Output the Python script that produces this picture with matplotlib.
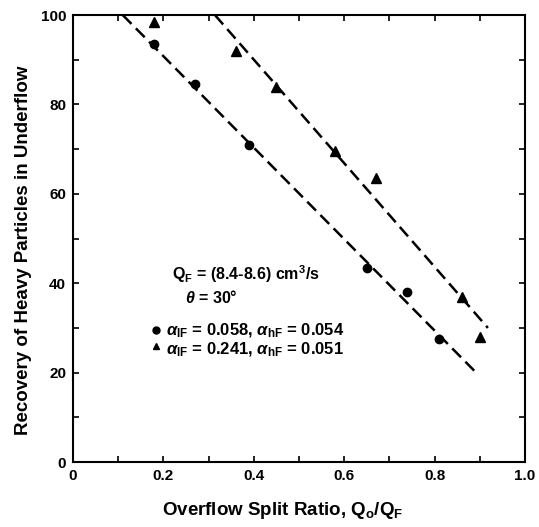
import matplotlib
matplotlib.use("Agg")
import matplotlib.pyplot as plt
from matplotlib.ticker import MultipleLocator

plt.rcParams['font.family'] = ['Liberation Sans', 'DejaVu Sans']
plt.rcParams['mathtext.fontset'] = 'custom'
plt.rcParams['mathtext.rm'] = 'Liberation Sans:bold'
plt.rcParams['mathtext.it'] = 'Liberation Sans:italic:bold'
plt.rcParams['mathtext.bf'] = 'Liberation Sans:bold'

# data
circle_x = [0.18, 0.27, 0.39, 0.65, 0.74, 0.81]
circle_y = [93.5, 84.5, 71.0, 43.5, 38.0, 27.5]
tri_x = [0.18, 0.36, 0.45, 0.58, 0.67, 0.86, 0.90]
tri_y = [98.5, 92.0, 84.0, 69.5, 63.5, 37.0, 28.0]

# fitted dashed lines (end points)
circle_fit_x = [0.11, 0.89]
circle_fit_y = [100.0, 20.2]
tri_fit_x = [0.314, 0.918]
tri_fit_y = [100.0, 30.0]

x_ticks = [0, 0.2, 0.4, 0.6, 0.8, 1.0]
x_tick_labels = ["0", "0.2", "0.4", "0.6", "0.8", "1.0"]
y_ticks = [0, 20, 40, 60, 80, 100]

fig = plt.figure(figsize=(5.39, 5.27), dpi=100)
ax = fig.add_axes([0.1354, 0.1233, 0.974 - 0.1354, 0.9715 - 0.1233])

# dashed fit lines
ax.plot(circle_fit_x, circle_fit_y, color="black", lw=1.8, dashes=(5, 2.5))
ax.plot(tri_fit_x, tri_fit_y, color="black", lw=1.8, dashes=(5, 2.5))

# data points
ax.plot(circle_x, circle_y, "o", color="black", ms=6, clip_on=False)
ax.plot(tri_x, tri_y, "^", color="black", ms=6.5, clip_on=False)

ax.set_xlim(0, 1.0)
ax.set_ylim(0, 100)
ax.set_xticks(x_ticks)
ax.set_xticklabels(x_tick_labels)
ax.set_yticks(y_ticks)
ax.xaxis.set_minor_locator(MultipleLocator(0.1))
ax.yaxis.set_minor_locator(MultipleLocator(10))
ax.tick_params(which="both", direction="in", top=True, right=True, width=1.2, length=4)
ax.tick_params(which="major", labelsize=11, pad=5)
for lab in ax.get_xticklabels() + ax.get_yticklabels():
    lab.set_fontweight("bold")
for sp in ax.spines.values():
    sp.set_linewidth(1.5)

ax.set_xlabel(r"Overflow Split Ratio, Q$_\mathrm{o}$/Q$_\mathrm{F}$",
              fontsize=13.5, fontweight="bold")
ax.xaxis.set_label_coords(0.465, -0.085)
ax.set_ylabel("Recovery of Heavy Particles in Underflow",
              fontsize=13.5, fontweight="bold")
ax.yaxis.set_label_coords(-0.09, 0.474)

# annotations
ax.text(0.219, 42, r"Q$_\mathrm{F}$ = (8.4-8.6) cm$^\mathrm{3}$/s",
        fontsize=11.5, fontweight="bold", va="center")
ax.text(0.248, 36.8, r"$\theta$ = 30°", fontsize=11.5, fontweight="bold", va="center")

ax.plot([0.184], [29.6], "o", color="black", ms=5)
ax.plot([0.184], [26.0], "^", color="black", ms=5)
ax.text(0.205, 29.3, r"$\alpha_{\mathrm{lF}}$ = 0.058, $\alpha_{\mathrm{hF}}$ = 0.054",
        fontsize=12, fontweight="bold", va="center")
ax.text(0.205, 25.2, r"$\alpha_{\mathrm{lF}}$ = 0.241, $\alpha_{\mathrm{hF}}$ = 0.051",
        fontsize=12, fontweight="bold", va="center")

fig.savefig("out.png", dpi=100)
